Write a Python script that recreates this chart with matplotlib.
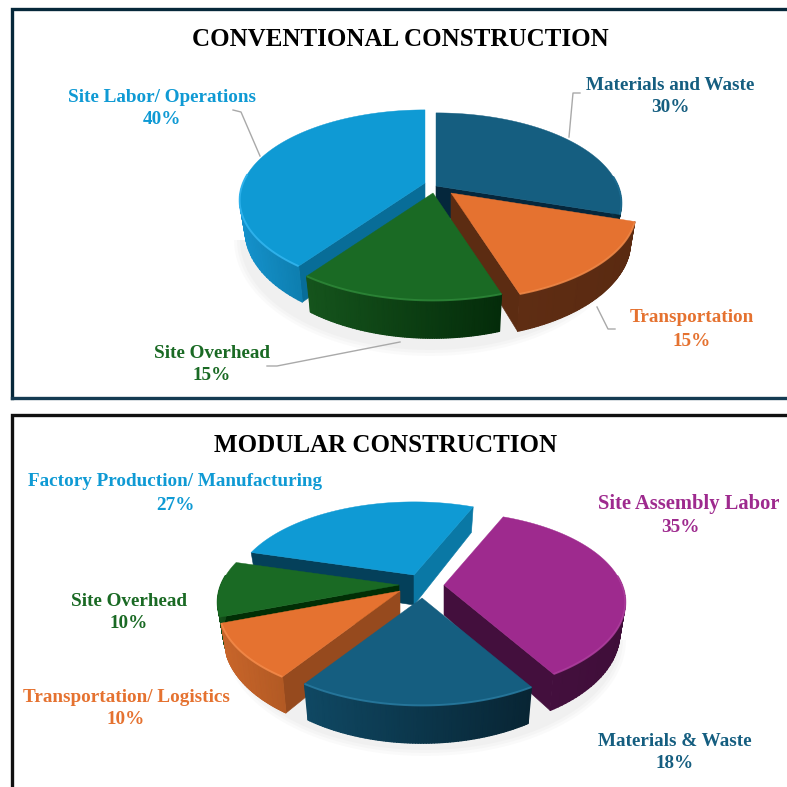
import numpy as np
import matplotlib
matplotlib.use("Agg")
import matplotlib.pyplot as plt
from matplotlib.colors import LinearSegmentedColormap

# data
top_title = "CONVENTIONAL CONSTRUCTION"
top_labels = ["Materials and Waste", "Transportation", "Site Overhead", "Site Labor/ Operations"]
top_values = [30, 15, 15, 40]

bottom_title = "MODULAR CONSTRUCTION"
bottom_labels = ["Site Assembly Labor", "Materials & Waste", "Transportation/ Logistics",
                 "Site Overhead", "Factory Production/ Manufacturing"]
bottom_values = [35, 18, 10, 10, 27]

# slice styles: top face, rim left, rim right, cut face, text
BLUE, NAVY, ORANGE, GREEN, PURPLE = "#0f9ad4", "#155e80", "#e57230", "#1a6a24", "#9e2a8e"

top_style = [
    dict(face=NAVY, left="#0f4560", right="#072634", cut="#05273c", text=NAVY, hl="#1d6f95"),
    dict(face=ORANGE, left="#5f2d13", right="#5a2a11", cut="#5c2c12", text=ORANGE, hl="#f08a4a"),
    dict(face=GREEN, left="#15541c", right="#042c0a", cut="#0a3a10", text=GREEN, hl="#2f8a3a"),
    dict(face=BLUE, left="#1592cc", right="#0e7fb0", cut="#086d98", text=BLUE, hl="#35b8f2"),
]
bottom_style = [
    dict(face=PURPLE, left="#430f3d", right="#3f0e39", cut="#430f3d", text=PURPLE, hl="#b040a0"),
    dict(face=NAVY, left="#0f4863", right="#082534", cut="#0b3850", text=NAVY, hl="#2a7da3"),
    dict(face=ORANGE, left="#c8652a", right="#b35a24", cut="#964a1e", text=ORANGE, hl="#f58c4c"),
    dict(face=GREEN, left="#14501a", right="#0c3a10", cut="#012e05", text=GREEN, hl="#1a6a24"),
    dict(face=BLUE, left="#0a5f85", right="#0a78a5", cut="#04405a", cut_end="#0a78a5", text=BLUE, hl="#0f9ad4"),
]


def project(a, cx, cy, rx, ry, k=0.19):
    # a is clockwise from 12 o'clock, degrees; front of the disc is nearer
    t = np.radians(a)
    xx, yy = np.sin(t), -np.cos(t)
    s = 1 / (1 - k * yy)
    return cx + xx * rx * s, cy + yy * ry * s, s


def pie3d(ax, values, styles, offsets, order, cx, cy, rx, ry, depth, start=0):
    frac = np.array(values) / sum(values) * 360
    starts = start + np.concatenate([[0], np.cumsum(frac)[:-1]])
    for n, i in enumerate(order):
        st = styles[i]
        z = 3 + n * 0.1
        a0, a1 = starts[i], starts[i] + frac[i]
        px, py = cx + offsets[i][0], cy + offsets[i][1]
        ang = np.linspace(a0, a1, 90)
        x, y, s = project(ang, px, py, rx, ry)
        xb = px + (x - px) * 0.97
        yb = py + (y - py) * 0.97 + depth * s ** 1.5

        # cut faces that look at the viewer
        if np.sin(np.radians(a0)) < 0:
            ax.fill([px, x[0], xb[0], px], [py, y[0], yb[0], py + depth],
                    color=st["cut"], lw=0.4, zorder=z)
        if np.sin(np.radians(a1)) > 0:
            ax.fill([px, x[-1], xb[-1], px], [py, y[-1], yb[-1], py + depth],
                    color=st.get("cut_end", st["cut"]), lw=0.4, zorder=z)

        # rim shaded left to right
        tr = np.cos(np.radians(ang)) < 0.12
        if tr.sum() > 1:
            cm = LinearSegmentedColormap.from_list("rim", [st["left"], st["right"]])
            grid_x = np.vstack([x[tr], xb[tr]])
            grid_y = np.vstack([y[tr], yb[tr]])
            ax.pcolormesh(grid_x, grid_y, np.vstack([x[tr], x[tr]]), cmap=cm,
                          shading="gouraud", zorder=z)
        ax.fill(np.r_[px, x], np.r_[py, y], color=st["face"], lw=0.3, zorder=z + 0.01)
        if tr.any():
            ax.plot(x[tr], y[tr], color=st["hl"], lw=1.4, alpha=0.8, zorder=z + 0.02,
                    solid_capstyle="butt")


def shadow(ax, cx, cy, rx, ry):
    # only the front half shows under the pie
    t = np.linspace(0, np.pi, 100)
    for g in [8, 5, 2]:
        ax.fill(cx + (rx + g) * np.cos(t), cy + (ry + g) * np.sin(t), color="#808080",
                alpha=0.035, lw=0, zorder=2)


def label(ax, name, value, x, y, color, x2=None, size=13.8):
    ax.text(x, y + 2, name, color=color, fontsize=size, fontweight="bold", ha="center", va="center", zorder=5)
    ax.text(x if x2 is None else x2, y + 25, "%d%%" % value, color=color,
            fontsize=13.8, fontweight="bold", ha="center", va="center", zorder=5)


plt.rcParams["font.family"] = ["Liberation Serif", "DejaVu Serif"]
fig = plt.figure(figsize=(7.87, 7.87), dpi=100)
ax = fig.add_axes([0, 0, 1, 1])

# panel borders
ax.plot([12, 12, 787], [398, 9, 9], color="#06283a", lw=2.4, zorder=1, solid_joinstyle="miter")
ax.plot([12, 787], [398, 398], color="#153b52", lw=2.4, zorder=1)
ax.plot([12, 12, 787], [787, 415, 415], color="#111111", lw=2.4, zorder=1, solid_joinstyle="miter")

ax.text(400, 40, top_title, fontsize=18.0, fontweight="bold", ha="center", va="center", color="black")
ax.text(386, 446, bottom_title, fontsize=18.0, fontweight="bold", ha="center", va="center", color="black")

# top pie
shadow(ax, 430, 240, 188, 108)
pie3d(ax, top_values, top_style, [(3, -1), (18, 6), (0, 6), (-8, -4)], [0, 3, 1, 2],
      433, 187, 182, 87, 30)

# bottom pie
shadow(ax, 425, 640, 193, 108)
pie3d(ax, bottom_values, bottom_style,
      [(19, -3), (-3, 10), (-25, 3), (-26, -3), (-11, -13)], [4, 3, 0, 2, 1],
      425, 588, 178, 87, 30, start=23)

# leader lines, top chart only
for lx, ly in [([233, 241, 260], [110, 112, 156]),
               ([580, 573, 569], [93, 93, 137]),
               ([597, 608, 615], [307, 329, 329]),
               ([400, 277, 267], [342, 366, 366])]:
    ax.plot(lx, ly, color="#a9a9a9", lw=1, zorder=2)

label(ax, top_labels[0], top_values[0], 670, 83, top_style[0]["text"])
label(ax, top_labels[1], top_values[1], 692, 316, top_style[1]["text"])
label(ax, top_labels[2], top_values[2], 212, 351, top_style[2]["text"])
label(ax, top_labels[3], top_values[3], 162, 95, top_style[3]["text"])

label(ax, bottom_labels[0], bottom_values[0], 689, 502, bottom_style[0]["text"], x2=680, size=14.8)
label(ax, bottom_labels[1], bottom_values[1], 675, 739, bottom_style[1]["text"])
label(ax, bottom_labels[2], bottom_values[2], 126, 695, bottom_style[2]["text"])
label(ax, bottom_labels[3], bottom_values[3], 129, 599, bottom_style[3]["text"])
label(ax, bottom_labels[4], bottom_values[4], 175, 480, bottom_style[4]["text"])

ax.set_xlim(0, 787)
ax.set_ylim(787, 0)
ax.axis("off")
fig.savefig("out.png", dpi=100)
